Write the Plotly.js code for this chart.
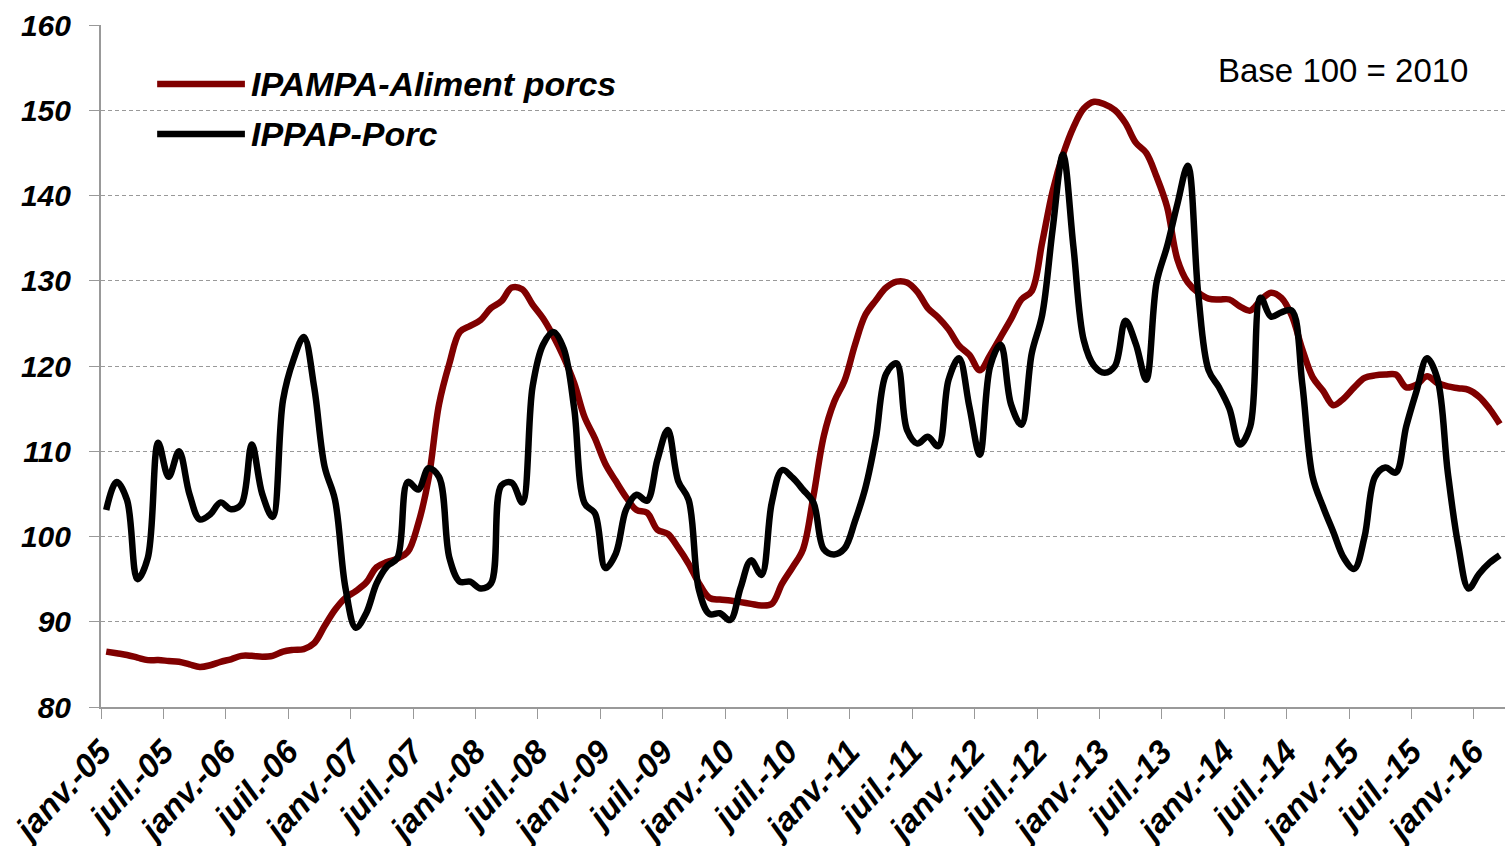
<!DOCTYPE html>
<html>
<head>
<meta charset="utf-8">
<script src="https://cdn.plot.ly/plotly-3.0.1.min.js"></script>
<style>html,body{margin:0;padding:0;background:#fff;}#chart{width:1505px;height:846px;}</style>
</head>
<body>
<div id="chart"></div>
<script>
// Monthly series, janv.-05 .. mars-16 (135 months)
const monthNames = ['janv.','févr.','mars','avr.','mai','juin','juil.','août','sept.','oct.','nov.','déc.'];
const firstYear = 2005;
const nMonths = 135;

const seriesNames = ['IPAMPA-Aliment porcs', 'IPPAP-Porc'];

const ipampaAliment = [
  86.5, 86.3, 86.1, 85.8, 85.5, 85.5, 85.4, 85.3, 85.0, 84.7,
  84.9, 85.3, 85.6, 86.0, 86.0, 85.9, 86.0, 86.5, 86.7, 86.8,
  87.5, 89.5, 91.4, 92.8, 93.6, 94.6, 96.4, 97.0, 97.4, 98.2,
  101.5, 106.8, 115.5, 120.3, 124.0, 124.7, 125.4, 126.8, 127.6, 129.2,
  129.0, 127.2, 125.6, 123.5, 121.0, 118.0, 114.0, 111.5, 108.5, 106.5,
  104.6, 103.1, 102.8, 100.8, 100.3, 98.7, 96.8, 94.5, 92.8, 92.6,
  92.5, 92.3, 92.1, 91.9, 92.1, 94.5, 96.4, 98.5, 104.7, 111.8,
  115.8, 118.3, 122.5, 126.0, 127.7, 129.2, 129.9, 129.8, 128.7, 126.8,
  125.7, 124.3, 122.4, 121.3, 119.5, 121.3, 123.4, 125.5, 127.8, 128.8,
  134.5, 140.5, 144.8, 148.0, 150.2, 151.0, 150.7, 150.0, 148.5, 146.2,
  145.0, 142.2, 138.7, 132.5, 129.8, 128.6, 127.9, 127.8, 127.8, 127.0,
  126.5, 127.7, 128.6, 128.0, 125.9, 122.0, 118.7, 117.1, 115.4, 116.2,
  117.5, 118.6, 118.9, 119.0, 119.0, 117.5, 117.8, 118.8, 118.0, 117.6,
  117.4, 117.2, 116.4, 115.0, 113.2
];

const ippapPorc = [
  103.1, 106.4, 104.3, 95.0, 97.5, 111.0, 107.0, 110.0, 105.0, 102.0,
  102.6, 104.0, 103.2, 103.8, 110.8, 105.0, 102.3, 116.0, 120.7, 123.4,
  117.5, 108.2, 104.3, 94.0, 89.3, 91.0, 94.5, 96.5, 97.5, 106.4,
  105.5, 108.0, 107.0, 97.5, 94.7, 94.7, 93.9, 94.5, 106.0, 106.3,
  104.0, 117.6, 122.5, 124.0, 122.0, 115.0, 103.9, 102.7, 96.3, 98.0,
  103.2, 104.9, 104.2, 109.0, 112.5, 106.5, 104.3, 93.7, 90.9, 91.0,
  90.2, 94.0, 97.2, 95.5, 104.0, 107.8, 106.9, 105.5, 104.0, 98.5,
  97.9, 98.6, 101.8, 105.7, 111.5, 119.1, 120.3, 112.5, 110.9, 111.7,
  110.6, 118.4, 120.9, 115.2, 109.6, 120.0, 122.5, 115.5, 113.1, 121.5,
  126.0, 136.0, 144.8, 134.0, 123.0, 120.0, 119.2, 120.0, 125.3, 122.6,
  118.4, 129.8, 134.0, 139.0, 143.5, 128.5, 119.5, 117.5, 115.0, 110.8,
  112.9, 128.0, 125.8, 126.3, 126.5, 118.0, 107.0, 103.5, 100.5, 97.5,
  96.2, 100.0, 107.0, 108.1, 107.5, 112.9, 117.1, 120.9, 118.5, 107.5,
  99.0, 93.9, 95.6, 96.9, 97.8
];

const yTicks = [80, 90, 100, 110, 120, 130, 140, 150, 160];
const baseLabel = 'Base 100 = 2010';

// month labels and positions (points sit in the middle of each month slot)
const monthLabels = [];
const xPos = [];
for (let i = 0; i < nMonths; i++) {
  const yy = firstYear + Math.floor(i / 12);
  monthLabels.push(monthNames[i % 12] + '-' + String(yy % 100).padStart(2, '0'));
  xPos.push(i + 0.5);
}
const tickVals = [];
const tickText = [];
for (let i = 0; i < nMonths; i += 6) {
  tickVals.push(i);
  tickText.push(monthLabels[i]);
}

const RED = '#800000';
const BLACK = '#000000';
const FONT = '"Liberation Sans", Arial, sans-serif';

const traces = [
  {x: xPos, y: ipampaAliment, text: monthLabels, name: seriesNames[0], type: 'scatter', mode: 'lines',
   line: {color: RED, width: 6.5, shape: 'spline', smoothing: 1}, hoverinfo: 'text+y'},
  {x: xPos, y: ippapPorc, text: monthLabels, name: seriesNames[1], type: 'scatter', mode: 'lines',
   line: {color: BLACK, width: 6.5, shape: 'spline', smoothing: 1}, hoverinfo: 'text+y'}
];

const legY = [0.9135, 0.840];
const legColors = [RED, BLACK];
const shapes = [];
const annotations = [];
for (let s = 0; s < 2; s++) {
  shapes.push({type: 'line', xref: 'paper', yref: 'paper', x0: 0.040, x1: 0.1025, y0: legY[s], y1: legY[s],
    line: {color: legColors[s], width: 6.5}});
  annotations.push({xref: 'paper', yref: 'paper', x: 0.1055, y: legY[s], xanchor: 'left', yanchor: 'middle',
    text: seriesNames[s], showarrow: false,
    font: {family: FONT, size: 34, color: '#000', weight: 'bold', style: 'italic'}});
}
annotations.push({xref: 'paper', yref: 'paper', x: 0.975, y: 0.934, xanchor: 'right', yanchor: 'middle',
  text: baseLabel, showarrow: false, font: {family: FONT, size: 33, color: '#000'}});

const layout = {
  width: 1505, height: 846,
  margin: {l: 101, r: 0, t: 25, b: 139, pad: 0},
  paper_bgcolor: '#fff', plot_bgcolor: '#fff',
  showlegend: false,
  xaxis: {
    type: 'linear', range: [0, nMonths], tickmode: 'array', tickvals: tickVals, ticktext: tickText,
    tickangle: -47, ticks: 'outside', ticklen: 10, tickcolor: '#999', tickwidth: 1,
    showline: true, linecolor: '#999', linewidth: 2, showgrid: false, zeroline: false,
    tickfont: {family: FONT, size: 33, color: '#000', weight: 'bold', style: 'italic'}
  },
  yaxis: {
    range: [80, 160], tickmode: 'array', tickvals: yTicks,
    ticks: 'outside', ticklen: 10, tickcolor: '#999', tickwidth: 1, ticklabelstandoff: 12,
    showline: true, linecolor: '#999', linewidth: 2,
    showgrid: true, gridcolor: '#999', gridwidth: 1, griddash: '4px,3px', zeroline: false,
    tickfont: {family: FONT, size: 30, color: '#000', weight: 'bold', style: 'italic'}
  },
  shapes: shapes,
  annotations: annotations
};

Plotly.newPlot('chart', traces, layout, {displayModeBar: false, staticPlot: true});
</script>
</body>
</html>
